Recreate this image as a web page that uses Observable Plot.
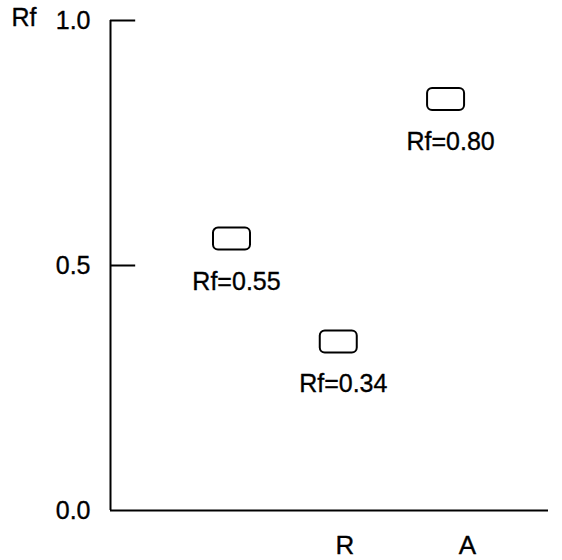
<!DOCTYPE html>
<html>
<head>
<meta charset="utf-8">
<script src="https://cdn.jsdelivr.net/npm/d3@7"></script>
<script src="https://cdn.jsdelivr.net/npm/@observablehq/plot@0.6"></script>
<style>
  html, body { margin: 0; padding: 0; background: #fff; }
  svg { font-family: "Liberation Sans", Arial, Helvetica, sans-serif; }
</style>
</head>
<body>
<div id="chart"></div>
<script>
// Spots on the plate (x lane position, measured Rf position) and their labels
const spotX = [1.105, 2.08, 3.06];
const spotRf = [0.555, 0.345, 0.84];
const spotLabels = ["Rf=0.55", "Rf=0.34", "Rf=0.80"];

// Axis tick values / labels
const yTicks = [0, 0.5, 1.0];
const yTickMarks = [0.5, 1.0];
const xTickPos = [2.14, 3.26];
const xTickLabels = ["R", "A"];
const yTitle = "Rf";
const xDomain = [0, 4];
const yDomain = [0, 1];

const spots = spotX.map((x, i) => ({x, y: spotRf[i], label: spotLabels[i]}));
const xTicks = xTickPos.map((x, i) => ({x, label: xTickLabels[i]}));

const roundedBox = {
  draw(ctx) {
    const w = 18.5, h = 11, r = 5;
    ctx.moveTo(-w + r, -h);
    ctx.lineTo(w - r, -h);
    ctx.arcTo(w, -h, w, -h + r, r);
    ctx.lineTo(w, h - r);
    ctx.arcTo(w, h, w - r, h, r);
    ctx.lineTo(-w + r, h);
    ctx.arcTo(-w, h, -w, h - r, r);
    ctx.lineTo(-w, -h + r);
    ctx.arcTo(-w, -h, -w + r, -h, r);
    ctx.closePath();
  }
};

const tickLen = 0.23; // in x data units
const ink = {fill: "black", stroke: "black", strokeWidth: 0.35};

const chart = Plot.plot({
  width: 562,
  height: 560,
  marginLeft: 110,
  marginRight: 14,
  marginTop: 20,
  marginBottom: 50,
  x: {domain: xDomain, axis: null},
  y: {domain: yDomain, axis: null},
  style: {fontFamily: '"Liberation Sans", Arial, sans-serif', color: "black", background: "white"},
  marks: [
    // y tick labels
    Plot.text(yTicks, {y: d => d, text: d3.format(".1f"), frameAnchor: "left", dx: -20,
      textAnchor: "end", lineAnchor: "middle", fontSize: 25, ...ink, style: "letter-spacing: 1.5px"}),
    // x tick labels
    Plot.text(xTicks, {x: "x", text: "label", frameAnchor: "bottom", dy: 35,
      lineAnchor: "middle", fontSize: 26, ...ink}),
    // axis lines and inward ticks
    Plot.ruleX([xDomain[0]], {y1: yDomain[0], y2: yDomain[1], strokeWidth: 2}),
    Plot.ruleY([yDomain[0]], {x1: xDomain[0], x2: xDomain[1], strokeWidth: 2}),
    Plot.ruleY(yTickMarks, {x1: xDomain[0], x2: xDomain[0] + tickLen, strokeWidth: 2}),
    // y title
    Plot.text([yTitle], {frameAnchor: "top-left", dx: -99, dy: -3, textAnchor: "start",
      lineAnchor: "middle", fontSize: 25, ...ink}),
    // spots
    Plot.dot(spots, {x: "x", y: "y", symbol: roundedBox, stroke: "black", strokeWidth: 2, fill: "white"}),
    Plot.text(spots, {x: "x", y: "y", text: "label", dx: 5, dy: 43, fontSize: 25,
      lineAnchor: "middle", ...ink})
  ]
});

document.getElementById("chart").appendChild(chart);
</script>
</body>
</html>
